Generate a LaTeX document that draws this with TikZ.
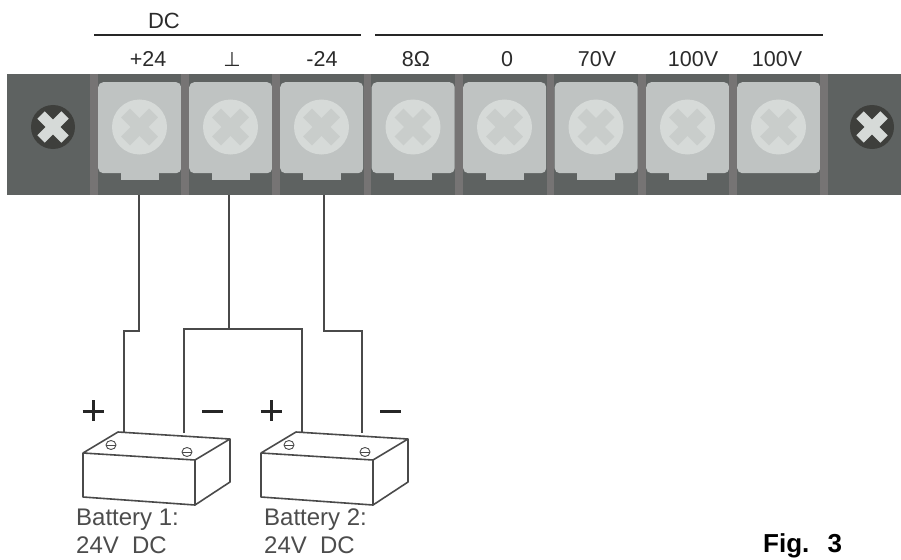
\documentclass[tikz,border=0pt]{standalone}
\usepackage{fontspec}
\setmainfont{Liberation Sans}
\newfontfamily\symfont{DejaVu Sans}
\usetikzlibrary{positioning}
\definecolor{panelgray}{HTML}{5E6261}
\definecolor{railgray}{HTML}{767474}
\definecolor{blockgray}{HTML}{BFC3C2}
\definecolor{screwgray}{HTML}{D6DAD8}
\definecolor{slotgray}{HTML}{C9CDCB}
\definecolor{boltgray}{HTML}{3E3F3C}
\definecolor{inkgray}{HTML}{2B2B2B}
\definecolor{wiregray}{HTML}{4A4A4A}
\begin{document}
\begin{tikzpicture}[
		x=1pt, y=-1pt,
		wire/.style={line width=1.6pt, draw=wiregray},
		bar/.style={line width=1.7pt, draw=black!85},
		case/.style={line width=1.6pt, draw=wiregray, line join=round},
		panel/.style={fill=panelgray, minimum width=894pt, minimum height=121pt, inner sep=0pt},
		rail/.style={fill=railgray, minimum width=7.5pt, minimum height=121pt, inner sep=0pt},
		terminal/.style={fill=blockgray, rounded corners=5pt, minimum width=83pt, minimum height=91pt, inner sep=0pt},
		tab/.style={fill=blockgray, minimum width=38pt, minimum height=9pt, inner sep=0pt},
		screw/.style={circle, fill=screwgray, minimum size=55pt, inner sep=0pt},
		bolt/.style={circle, fill=boltgray, minimum size=44pt, inner sep=0pt},
		slot/.style={line width=12.5pt, draw=slotgray},
		boltslot/.style={line width=10.5pt, draw=screwgray},
		lbl/.style={font=\fontsize{21.5}{24}\selectfont, text=inkgray, inner sep=0pt},
		sign/.style={line width=3pt, draw=black!85},
		batlabel/.style={font=\fontsize{24}{28}\selectfont, text=black!70, align=left, anchor=north west, inner sep=0pt},
	]
	\useasboundingbox (0,0) rectangle (901,559);

	\node (panel) [panel, anchor=north west] at (7,74) {};
	\foreach \n/\x in {1/98,2/189,3/280,4/371.5,5/463,6/554.5,7/646} {
		\node (tab\n) [tab] at (\x+41.5,175.5) {};
	}
	\foreach \n/\x in {1/98,2/189,3/280,4/371.5,5/463,6/554.5,7/646,8/737} {
		\node (rail\n) [rail, anchor=north east] at (\x,74) {};
		\node (term\n) [terminal, anchor=north west] at (\x,82) {};
		\node (screw\n) [screw] at (\x+41.5,127) {};
		\draw[slot] (\x+41.5-14,127-14) -- (\x+41.5+14,127+14);
		\draw[slot] (\x+41.5-14,127+14) -- (\x+41.5+14,127-14);
	}
	\node (rail9) [rail, anchor=north west] at (820,74) {};

	\foreach \n/\x in {1/53,2/872} {
		\node (bolt\n) [bolt] at (\x,127) {};
		\draw[boltslot] (\x-12,127-12) -- (\x+12,127+12);
		\draw[boltslot] (\x-12,127+12) -- (\x+12,127-12);
	}

	\node (dc) [lbl, font=\fontsize{22}{24}\selectfont] at (164,21) {DC};
	\node (p24) [lbl] at (148,59) {+24};
	\node (gnd) [lbl, font=\symfont\fontsize{20}{24}\selectfont] at (232,59) {⊥};
	\node (m24) [lbl] at (322,59) {-24};
	\node (ohm) [lbl] at (416,59) {8Ω};
	\node (zero) [lbl] at (507,59) {0};
	\node (v70) [lbl] at (597,59) {70V};
	\node (v100a) [lbl] at (693,59) {100V};
	\node (v100b) [lbl] at (777,59) {100V};
	\coordinate (dcl) at (94,35);
	\coordinate (dcr) at (361,35);
	\coordinate (acl) at (375,35);
	\coordinate (acr) at (823,35);
	\draw[bar] (dcl) -- (dcr);
	\draw[bar] (acl) -- (acr);

	\foreach \n/\dx in {1/0,2/178} {
		\begin{scope}[xshift=\dx pt]
			\draw[case] (83,453) -- (118,432) -- (230,439) -- (195,460) -- cycle;
			\draw[case] (83,453) -- (83,497) -- (195,505) -- (195,460);
			\draw[case] (195,505) -- (230,482) -- (230,439);
			\draw[case, line width=0.9pt] (111,445) ellipse (5pt and 4.5pt);
			\draw[case, line width=0.9pt] (106,445) -- (116,445);
			\draw[case, line width=0.9pt] (187,452) ellipse (5pt and 4.5pt);
			\draw[case, line width=0.9pt] (182,452) -- (192,452);
			\coordinate (pos\n) at (124,432);
			\coordinate (neg\n) at (184,433);
			\coordinate (plusv\n) at (93,400);
			\coordinate (plusw\n) at (82.5,411);
			\coordinate (minusw\n) at (202,411);
		\end{scope}
		\draw[sign] (plusv\n) -- ++(0,21);
		\draw[sign] (plusw\n) -- ++(21,0);
		\draw[sign] (minusw\n) -- ++(21,0);
	}

	\coordinate (w1) at (139,195);
	\coordinate (w2) at (229,195);
	\coordinate (w3) at (324,195);
	\coordinate (j1) at (124,331);
	\coordinate (j2) at (229,329);
	\coordinate (j3) at (362,331);
	\draw[wire] (w1) -- (w1 |- j1) -- (j1) -- (pos1);
	\draw[wire] (w2) -- (j2);
	\draw[wire] (neg1) -- (neg1 |- j2) -- (pos2 |- j2) -- (pos2);
	\draw[wire] (w3) -- (w3 |- j3) -- (j3) -- (neg2);

	\node (bat1) [batlabel] at (76,509) {Battery 1:\\24V\hspace{0.55em}DC};
	\node (bat2) [batlabel] at (264,509) {Battery 2:\\24V\hspace{0.55em}DC};
	\node (fig) [font=\bfseries\fontsize{26}{28}\selectfont, inner sep=0pt, anchor=base west] at (763,552) {Fig.\hspace{0.7em}3};
\end{tikzpicture}
\end{document}
